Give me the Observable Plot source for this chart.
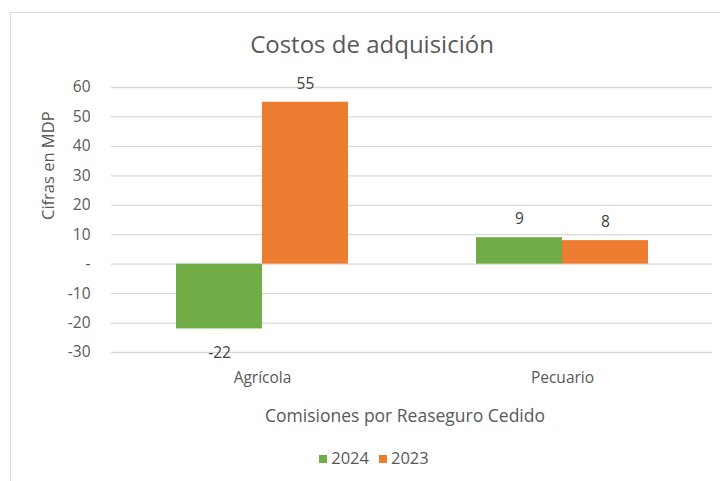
<!DOCTYPE html>
<html>
<head>
<meta charset="utf-8">
<script src="https://cdn.jsdelivr.net/npm/d3@7"></script>
<script src="https://cdn.jsdelivr.net/npm/@observablehq/plot@0.6"></script>
<style>
  html, body { margin: 0; padding: 0; background: #fff; }
  #wrap { position: relative; width: 720px; height: 481px; overflow: hidden; font-family: "Open Sans", sans-serif; color: #595959; }
  #frame { position: absolute; left: 10px; top: 12px; width: 730px; height: 480px; border-left: 1.5px solid #d9d9d9; border-top: 1.5px solid #d9d9d9; }
  #title { position: absolute; left: 0; width: 744px; top: 29px; text-align: center; font-size: 24px; line-height: 30px; color: #595959; }
  #chart { position: absolute; left: 0; top: 60px; }
  #legend { position: absolute; left: 0; width: 748px; top: 448px; text-align: center; font-size: 16.5px; line-height: 20px; color: #595959; }
  #legend span.sw { display: inline-block; width: 8px; height: 8px; margin-right: 4px; vertical-align: 1px; }
  #legend span.item { margin: 0 5px; }
</style>
</head>
<body>
<div id="wrap">
  <div id="frame"></div>
  <div id="title">Costos de adquisición</div>
  <div id="chart"></div>
  <div id="legend"></div>
</div>
<script>
// ---- data ----
const categories = ["Agrícola", "Pecuario"];
const series = ["2024", "2023"];
const values2024 = [-22, 9];
const values2023 = [55, 8];
const yTicks = [-30, -20, -10, 0, 10, 20, 30, 40, 50, 60];
const colors = ["#70AD47", "#ED7D31"];
const chartTitle = "Costos de adquisición";
const yTitle = "Cifras en MDP";
const xTitle = "Comisiones por Reaseguro Cedido";

const rows = [];
categories.forEach((c, i) => {
  rows.push({category: c, year: series[0], value: values2024[i]});
  rows.push({category: c, year: series[1], value: values2023[i]});
});

document.getElementById("title").textContent = chartTitle;

const width = 720, height = 380;
const marginLeft = 111, marginRight = 8, marginTop = 27, marginBottom = 88;
const padIn = 0.428, padOut = 0.214;
const step = (width - marginLeft - marginRight) / (categories.length - padIn + 2 * padOut);
const bw = step * (1 - padIn);
const half = bw / 2;

const txt = "#595959", lbl = "#404040";

const chart = Plot.plot({
  width, height, marginLeft, marginRight, marginTop, marginBottom,
  style: {fontFamily: "'Open Sans', sans-serif", fontSize: "15.5px", color: txt, background: "transparent"},
  x: {domain: categories, paddingInner: padIn, paddingOuter: padOut, axis: null},
  y: {domain: [-30, 60], axis: null},
  marks: [
    Plot.gridY(yTicks, {stroke: "#d9d9d9", strokeOpacity: 1, strokeWidth: 1.3}),
    Plot.barY(rows.filter(d => d.year === series[0]), {x: "category", y: "value", fill: colors[0], insetRight: half}),
    Plot.barY(rows.filter(d => d.year === series[1]), {x: "category", y: "value", fill: colors[1], insetLeft: half}),
    Plot.axisY(yTicks, {tickSize: 0, tickPadding: 21, tickFormat: d => d === 0 ? "-" : String(d), fill: txt, label: null, fontSize: 15.5}),
    Plot.axisX({tickSize: 0, tickPadding: 19, fill: txt, label: null, fontSize: 15.5}),
    Plot.text(rows.filter(d => d.year === series[0] && d.value >= 0), {x: "category", y: "value", text: d => String(d.value), dx: -half/2, dy: -18.5, fill: lbl, fontSize: 15.5}),
    Plot.text(rows.filter(d => d.year === series[1] && d.value >= 0), {x: "category", y: "value", text: d => String(d.value), dx: half/2, dy: -18.5, fill: lbl, fontSize: 15.5}),
    Plot.text(rows.filter(d => d.year === series[0] && d.value < 0), {x: "category", y: "value", text: d => String(d.value), dx: -half/2, dy: 24, fill: lbl, fontSize: 15.5}),
    Plot.text(rows.filter(d => d.year === series[1] && d.value < 0), {x: "category", y: "value", text: d => String(d.value), dx: half/2, dy: 24, fill: lbl, fontSize: 15.5}),
    Plot.text([yTitle], {frameAnchor: "left", rotate: -90, dx: -63, fill: txt, fontSize: 16.5}),
    Plot.text([xTitle], {frameAnchor: "bottom", dx: -7, dy: 69, fill: txt, fontSize: 17.5})
  ]
});
document.getElementById("chart").appendChild(chart);

const legend = document.getElementById("legend");
series.forEach((s, i) => {
  const item = document.createElement("span");
  item.className = "item";
  const sw = document.createElement("span");
  sw.className = "sw";
  sw.style.background = colors[i];
  item.appendChild(sw);
  item.appendChild(document.createTextNode(s));
  legend.appendChild(item);
});
</script>
</body>
</html>
